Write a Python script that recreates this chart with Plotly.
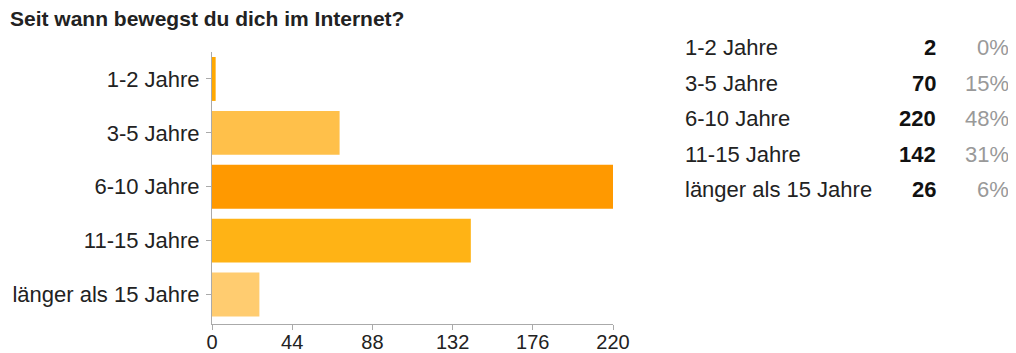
import plotly.graph_objects as go

title = "Seit wann bewegst du dich im Internet?"
categories = ["1-2 Jahre", "3-5 Jahre", "6-10 Jahre", "11-15 Jahre", "länger als 15 Jahre"]
counts = [2, 70, 220, 142, 26]
percents = ["0%", "15%", "48%", "31%", "6%"]
colors = ["#FFA800", "#FFC04A", "#FF9900", "#FFB315", "#FFCC70"]
x_ticks = [0, 44, 88, 132, 176, 220]

OFF = 8                  # default body margin of the html page
W, H = 1016 - OFF, 353 - OFF
L, R = 212 - OFF, 613 - OFF      # plot area left/right in px
BAND = 54                        # px per category
T, B = 51.5 - OFF, 324 - OFF     # plot area top/bottom in px
EXTRA = (B - T - BAND * len(categories)) / BAND  # small gap below last bar
FONT = "Liberation Sans, Arial, Helvetica, sans-serif"
FS = 22

fig = go.Figure(go.Bar(
    orientation="h",
    y=categories,
    x=counts,
    marker=dict(color=colors, line=dict(width=0)),
    hoverinfo="x+y",
))

annotations = []
row_top, row_step = 47 - OFF, 35.6
for i, (c, n, p) in enumerate(zip(categories, counts, percents)):
    py = row_top + i * row_step
    yp = (B - py) / (B - T)
    annotations.append(dict(text=c, xref="paper", yref="paper", x=(683 - OFF - L) / (R - L), y=yp,
                            xanchor="left", yanchor="middle", showarrow=False,
                            font=dict(family=FONT, size=FS, color="#222222")))
    annotations.append(dict(text="<b>%d</b>" % n, xref="paper", yref="paper", x=(938 - OFF - L) / (R - L), y=yp,
                            xanchor="right", yanchor="middle", showarrow=False,
                            font=dict(family=FONT, size=FS, color="#111111")))
    annotations.append(dict(text=p, xref="paper", yref="paper", x=(1011 - OFF - L) / (R - L), y=yp,
                            xanchor="right", yanchor="middle", showarrow=False,
                            font=dict(family=FONT, size=FS, color="#999999")))

fig.update_layout(
    width=W, height=H,
    margin=dict(l=L, r=W - R, t=T, b=H - B, pad=0, autoexpand=False),
    paper_bgcolor="white", plot_bgcolor="white",
    bargap=10 / BAND,
    showlegend=False,
    font=dict(family=FONT, size=FS, color="#222222"),
    title=dict(text="<b>" + title + "</b>", x=(10 - OFF) / W, xref="container", xanchor="left",
               y=1 - (19 - OFF) / H, yref="container", yanchor="middle",
               font=dict(family=FONT, size=21, color="#222222")),
    xaxis=dict(range=[0, 220], tickvals=x_ticks, ticktext=[str(v) for v in x_ticks],
               showgrid=False, zeroline=False, showline=True, linecolor="#AAAAAA", linewidth=1,
               ticks="outside", ticklen=5, tickcolor="#AAAAAA", automargin=False,
               ticklabelstandoff=-5,
               tickfont=dict(family=FONT, size=20, color="#222222"), fixedrange=True),
    yaxis=dict(range=[len(categories) - 0.5 + EXTRA, -0.5], showgrid=False, zeroline=False,
               showline=True, linecolor="#AAAAAA", linewidth=1, ticks="outside", ticklen=5,
               tickcolor="#AAAAAA", ticklabelstandoff=2, automargin=False,
               tickfont=dict(family=FONT, size=FS, color="#222222"), fixedrange=True),
    annotations=annotations,
)

fig.write_html("out.html", config={"displayModeBar": False})
